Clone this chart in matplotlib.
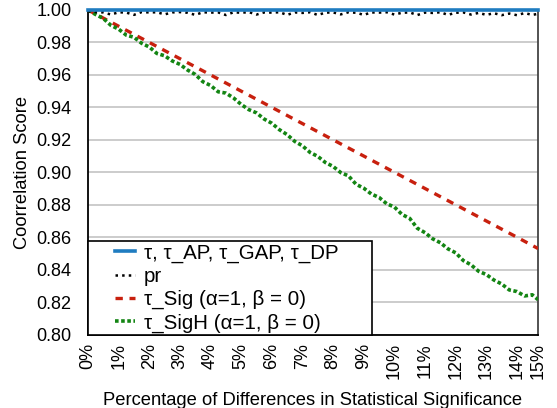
import matplotlib
matplotlib.use('Agg')
import matplotlib.pyplot as plt
import numpy as np

plt.rcParams['font.family'] = ['Liberation Sans', 'DejaVu Sans']

# x positions (percentage of differences), last sample ends the axis
x_end = 14.69
tick_labels = ['0%', '1%', '2%', '3%', '4%', '5%', '6%', '7%', '8%', '9%',
               '10%', '11%', '12%', '13%', '14%', '15%']

# tau, tau_AP, tau_GAP, tau_DP
tau_x = [0, x_end]
tau_y = [1.0, 1.0]

# tau_Sig
sig_x = [0, 1, 2, 3, 4, 5, 6, 7, 8, 9, 10, 11, 12, 13, 14, x_end]
sig_y = [1.000, 0.990, 0.980, 0.970, 0.960, 0.950, 0.940, 0.930, 0.920,
         0.910, 0.900, 0.890, 0.880, 0.870, 0.860, 0.853]

# sampled every 0.25%
grid_x = list(np.arange(0, 14.75, 0.25)) + [x_end]

# tau_SigH
sigh_y = [1.000, 0.9972, 0.9948, 0.9905, 0.9882, 0.9845, 0.9832, 0.9795,
          0.9772, 0.9732, 0.9718, 0.9686, 0.9665, 0.9630, 0.9603, 0.9558,
          0.9535, 0.9496, 0.9488, 0.9458, 0.9418, 0.9386, 0.9366, 0.9328,
          0.9302, 0.9262, 0.9232, 0.9190, 0.9163, 0.9122, 0.9098, 0.9060,
          0.9036, 0.8998, 0.8978, 0.8926, 0.8902, 0.8866, 0.8845, 0.8806,
          0.8786, 0.8740, 0.8716, 0.8655, 0.8628, 0.8590, 0.8566, 0.8528,
          0.8504, 0.8456, 0.8430, 0.8390, 0.8370, 0.8336, 0.8312, 0.8275,
          0.8265, 0.8238, 0.8245, 0.8215]

# pr
pr_y = [0.9992, 0.9987, 0.9985, 0.9972, 0.9986, 0.9984, 0.9970, 0.9987,
        0.9985, 0.9986, 0.9973, 0.9985, 0.9987, 0.9983, 0.9970, 0.9986,
        0.9984, 0.9985, 0.9969, 0.9986, 0.9983, 0.9987, 0.9972, 0.9985,
        0.9984, 0.9986, 0.9970, 0.9985, 0.9982, 0.9986, 0.9969, 0.9984,
        0.9985, 0.9973, 0.9986, 0.9983, 0.9970, 0.9985, 0.9984, 0.9986,
        0.9972, 0.9983, 0.9985, 0.9969, 0.9984, 0.9982, 0.9986, 0.9970,
        0.9983, 0.9985, 0.9972, 0.9982, 0.9970, 0.9980, 0.9968, 0.9978,
        0.9968, 0.9981, 0.9970, 0.9976]

fig = plt.figure(figsize=(5.57, 4.08), dpi=100)
ax = fig.add_axes([0.158, 0.18, 0.808, 0.7955])

ax.yaxis.grid(True, color='#c4c4c4', linewidth=1.2)
ax.set_axisbelow(True)

ax.plot(tau_x, tau_y, color='#1f7cc0', linewidth=2.6, clip_on=False,
        label='τ, τ_AP, τ_GAP, τ_DP', zorder=5)
ax.plot(grid_x, pr_y, color='black', linestyle=':', linewidth=1.8,
        label='pr', zorder=4)
ax.plot(sig_x, sig_y, color='#c8200e', linestyle=(0, (2.2, 2.0)),
        linewidth=2.4, label='τ_Sig (α=1, β = 0)', zorder=3)
ax.plot(grid_x, sigh_y, color='#138513', linestyle=(0, (1, 0.7)),
        linewidth=2.6, label='τ_SigH (α=1, β = 0)', zorder=3)

ax.set_xlim(0, x_end)
ax.set_ylim(0.80, 1.00)
ax.set_yticks(np.arange(0.80, 1.001, 0.02))
ax.set_yticklabels(['%.2f' % v for v in np.arange(0.80, 1.001, 0.02)])
ax.set_xticks(list(range(15)) + [x_end])
ax.set_xticklabels(tick_labels, rotation=90)
ax.tick_params(axis='both', length=0, labelsize=13)
ax.tick_params(axis='y', pad=12)
ax.tick_params(axis='x', pad=6)

ax.spines['top'].set_visible(False)
ax.spines['left'].set_color('black')
ax.spines['bottom'].set_color('black')
ax.spines['right'].set_color('#444444')
for s in ax.spines.values():
    s.set_linewidth(1.3)

ax.set_xlabel('Percentage of Differences in Statistical Significance',
              fontsize=13.2, labelpad=9)
ax.set_ylabel('Coorrelation Score', fontsize=13.2, labelpad=4)

leg = ax.legend(loc='lower left', fontsize=14.8, frameon=True, fancybox=False,
                bbox_to_anchor=(0, 0, 0.631, 0.3), mode='expand',
                borderaxespad=0, handlelength=2.2, labelspacing=0.2,
                borderpad=0.1, handletextpad=0.4)
leg.get_frame().set_edgecolor('black')
leg.get_frame().set_linewidth(1.2)
leg.get_frame().set_alpha(1)
# keep the sample lines short and indented, as in the original legend
for ln in leg.get_lines():
    xd = np.asarray(ln.get_xdata(), dtype=float)
    x0, x1 = xd[0], xd[-1]
    ln.set_xdata(np.linspace(x1 - (x1 - x0) * 0.45, x1, len(xd)))

fig.savefig('out.png', dpi=100)
